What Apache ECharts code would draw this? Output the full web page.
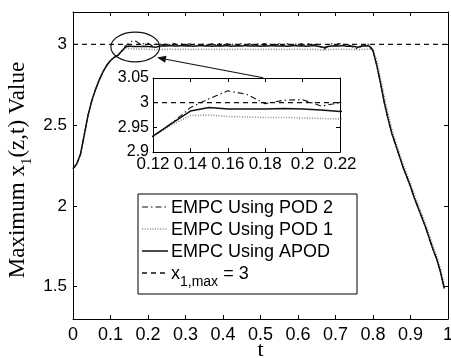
<!DOCTYPE html>
<html>
<head>
<meta charset="utf-8">
<script src="https://cdn.jsdelivr.net/npm/echarts@6/dist/echarts.min.js"></script>
<style>
  html, body { margin: 0; padding: 0; background: #fff; }
  #chart { width: 451px; height: 358px; }
</style>
</head>
<body>
<div id="chart"></div>
<script>
// Sampling step of the simulation output (t = 0, 0.01, ..., 0.99)
const step = 0.01;

// Maximum of x1(z,t) for each controller
const apod = [
  2.23, 2.26, 2.32, 2.44, 2.56, 2.65, 2.72, 2.78, 2.83, 2.87,
  2.90, 2.92, 2.932, 2.958, 2.983, 2.990, 2.987, 2.987, 2.987, 2.988,
  2.987, 2.985, 2.982, 2.988, 2.991, 2.989, 2.992, 2.989, 2.990, 2.992,
  2.989, 2.991, 2.988, 2.990, 2.992, 2.989, 2.991, 2.988, 2.990, 2.991,
  2.989, 2.992, 2.988, 2.990, 2.991, 2.989, 2.992, 2.989, 2.990, 2.991,
  2.988, 2.991, 2.989, 2.992, 2.990, 2.989, 2.991, 2.988, 2.990, 2.992,
  2.989, 2.991, 2.988, 2.990, 2.992, 2.989, 2.985, 2.980, 2.986, 2.990,
  2.991, 2.989, 2.992, 2.988, 2.990, 2.986, 2.982, 2.988, 2.991, 2.990,
  2.96, 2.87, 2.76, 2.64, 2.54, 2.45, 2.38, 2.31, 2.24, 2.18,
  2.12, 2.05, 1.99, 1.93, 1.87, 1.80, 1.73, 1.67, 1.59, 1.49
];
const pod1 = [
  2.23, 2.26, 2.32, 2.44, 2.56, 2.65, 2.72, 2.78, 2.83, 2.87,
  2.90, 2.92, 2.932, 2.955, 2.974, 2.975, 2.972, 2.971, 2.970, 2.970,
  2.969, 2.968, 2.967, 2.968, 2.969, 2.968, 2.970, 2.968, 2.969, 2.968,
  2.970, 2.968, 2.969, 2.967, 2.969, 2.968, 2.970, 2.968, 2.969, 2.968,
  2.969, 2.967, 2.969, 2.968, 2.970, 2.968, 2.969, 2.968, 2.969, 2.967,
  2.969, 2.968, 2.970, 2.968, 2.969, 2.968, 2.969, 2.967, 2.969, 2.968,
  2.970, 2.968, 2.969, 2.968, 2.969, 2.967, 2.966, 2.965, 2.967, 2.968,
  2.969, 2.968, 2.970, 2.968, 2.969, 2.967, 2.966, 2.968, 2.969, 2.970,
  2.97, 2.90, 2.79, 2.68, 2.57, 2.48, 2.40, 2.33, 2.26, 2.20,
  2.14, 2.07, 2.01, 1.95, 1.89, 1.82, 1.75, 1.69, 1.61, 1.51
];
const pod2 = [
  2.23, 2.26, 2.32, 2.44, 2.56, 2.65, 2.72, 2.78, 2.83, 2.87,
  2.90, 2.92, 2.932, 2.958, 2.990, 3.008, 3.024, 3.017, 2.998, 3.005,
  3.006, 2.993, 3.000, 3.004, 2.996, 3.004, 2.995, 3.005, 2.996, 3.003,
  2.995, 3.004, 2.996, 3.005, 2.995, 3.003, 2.996, 3.004, 2.995, 3.005,
  2.996, 3.003, 2.995, 3.004, 2.996, 3.005, 2.995, 3.003, 2.996, 3.004,
  2.995, 3.005, 2.996, 3.003, 2.995, 3.004, 2.996, 3.005, 2.995, 3.003,
  2.996, 3.004, 2.995, 3.005, 2.996, 3.001, 2.985, 2.970, 2.988, 3.004,
  2.995, 3.005, 2.996, 3.003, 2.990, 2.978, 2.972, 2.992, 3.004, 3.000,
  2.96, 2.87, 2.76, 2.64, 2.54, 2.45, 2.38, 2.31, 2.24, 2.18,
  2.12, 2.05, 1.99, 1.93, 1.87, 1.80, 1.73, 1.67, 1.59, 1.49
];
// Constraint x1,max
const x1Max = 3;
const limitSpan = [0, 1];
const insetLimitSpan = [0.12, 0.22];

// Tick positions
const xTicks = [0, 0.1, 0.2, 0.3, 0.4, 0.5, 0.6, 0.7, 0.8, 0.9, 1];
const yTicks = [1.5, 2, 2.5, 3];
const insetXTicks = [0.12, 0.14, 0.16, 0.18, 0.2, 0.22];
const insetYTicks = [2.9, 2.95, 3, 3.05];

const seriesNames = ['EMPC Using POD 2', 'EMPC Using POD 1', 'EMPC Using APOD'];

const SANS = '"Liberation Sans", Arial, Helvetica, sans-serif';
const SERIF = '"Liberation Serif", "Times New Roman", serif';
const INK = '#111';

const toPairs = vals => vals.map((v, i) => [Math.round(i * step * 100) / 100, v]);

function axisDef(grid, min, max, ticks, pos, withLabels, fontSize, margin) {
  return {
    type: 'value', gridIndex: grid, min: min, max: max, position: pos,
    axisLine: { onZero: false, lineStyle: { color: '#000', width: 1 } },
    axisTick: { inside: true, length: 4, customValues: ticks, lineStyle: { color: '#000' } },
    axisLabel: { show: withLabels, customValues: ticks, color: '#000', fontFamily: SANS,
                 fontSize: fontSize, margin: margin },
    splitLine: { show: false }
  };
}

function curveSeries(xi, yi) {
  const base = { type: 'line', xAxisIndex: xi, yAxisIndex: yi, symbol: 'none',
                 silent: true, animation: false, clip: true };
  return [
    Object.assign({}, base, { name: seriesNames[1], data: toPairs(pod1), z: 2,
      lineStyle: { color: '#8c8c8c', width: 1.6, type: [1, 1.6] } }),
    Object.assign({}, base, { name: seriesNames[2], data: toPairs(apod), z: 3,
      lineStyle: { color: INK, width: 1.5, type: 'solid' } }),
    Object.assign({}, base, { name: seriesNames[0], data: toPairs(pod2), z: 4,
      lineStyle: { color: INK, width: 1.1, type: [6, 3, 1.5, 3] } }),
    Object.assign({}, base, { name: 'x1,max', z: 5,
      data: (xi === 0 ? limitSpan : insetLimitSpan).map(t => [t, x1Max]),
      lineStyle: { color: INK, width: 1.3, type: [5, 4] } })
  ];
}

const chart = echarts.init(document.getElementById('chart'), null, { renderer: 'canvas' });

chart.setOption({
  animation: false,
  backgroundColor: '#fff',
  grid: [
    { left: 73, right: 3, top: 12, bottom: 39, outerBoundsMode: 'none', containLabel: false },
    { left: 153, top: 78, width: 187, height: 74, outerBoundsMode: 'none', containLabel: false,
      backgroundColor: '#fff', show: true, borderWidth: 0 }
  ],
  xAxis: [
    Object.assign(axisDef(0, 0, 1, xTicks, 'bottom', true, 18, 7), {
      name: 't', nameLocation: 'middle', nameGap: 20, nameMoveOverlap: false,
      nameTextStyle: { fontFamily: SERIF, fontSize: 22, color: '#000' }
    }),
    axisDef(0, 0, 1, xTicks, 'top', false, 18, 7),
    axisDef(1, 0.12, 0.22, insetXTicks, 'bottom', true, 17, 4),
    axisDef(1, 0.12, 0.22, insetXTicks, 'top', false, 17, 4)
  ],
  yAxis: [
    axisDef(0, 1.3, 3.2, yTicks, 'left', true, 17, 6),
    axisDef(0, 1.3, 3.2, yTicks, 'right', false, 17, 6),
    axisDef(1, 2.9, 3.05, insetYTicks, 'left', true, 16, 4),
    axisDef(1, 2.9, 3.05, insetYTicks, 'right', false, 16, 4)
  ],
  series: curveSeries(0, 0).concat(curveSeries(2, 2))
});

// Annotations: y-axis title, zoom ellipse with arrow, and the legend box
const px = (t, v) => chart.convertToPixel({ seriesIndex: 0 }, [t, v]);

const ellC = px(0.166, 2.983);
const ellR = px(0.166 + 0.065, 2.983 + 0.092);
const arrFrom = px(0.507, 2.793);
const arrTo = px(0.224, 2.918);
const dx = arrTo[0] - arrFrom[0], dy = arrTo[1] - arrFrom[1];
const len = Math.hypot(dx, dy), ux = dx / len, uy = dy / len;
const headLen = 9, headHalf = 3.5;
const baseX = arrTo[0] - ux * headLen, baseY = arrTo[1] - uy * headLen;

const legendX = 138, legendY = 194, legendW = 219, legendH = 100;
const rowY = [207, 229, 251, 273];
const sampleStyles = [
  { stroke: INK, lineWidth: 1.1, lineDash: [6, 3, 1.5, 3] },
  { stroke: '#8c8c8c', lineWidth: 1.6, lineDash: [1, 1.6] },
  { stroke: INK, lineWidth: 1.5 },
  { stroke: INK, lineWidth: 1.3, lineDash: [5, 4] }
];

const legendChildren = [
  { type: 'rect', shape: { x: legendX, y: legendY, width: legendW, height: legendH },
    style: { fill: '#fff', stroke: '#000', lineWidth: 1 } }
];
rowY.forEach((y, i) => {
  legendChildren.push({ type: 'line', shape: { x1: legendX + 4, y1: y, x2: legendX + 30, y2: y },
    style: sampleStyles[i] });
});
seriesNames.forEach((n, i) => {
  legendChildren.push({ type: 'text', x: legendX + 33, y: rowY[i] + 1,
    style: { text: n, font: '18px ' + SANS, fill: '#000', align: 'left', verticalAlign: 'middle' } });
});
legendChildren.push({ type: 'text', x: legendX + 33, y: rowY[3] + 4,
  style: { text: '{n|x}{s|1,max}{n| = 3}', fill: '#000', align: 'left', verticalAlign: 'middle',
    rich: {
      n: { fontFamily: SANS, fontSize: 18, fill: '#000', padding: [0, 0, 6, 0] },
      s: { fontFamily: SANS, fontSize: 14, fill: '#000', padding: [10, 0, 0, 0] }
    } } });

chart.setOption({
  graphic: [
    { type: 'text', x: 21, y: 170, rotation: Math.PI / 2,
      style: { text: '{a|Maximum x}{b|1}{a|(z,t) Value}', align: 'center', verticalAlign: 'middle',
        rich: {
          a: { fontFamily: SERIF, fontSize: 23, fill: '#000', padding: [0, 0, 6, 0] },
          b: { fontFamily: SERIF, fontSize: 15, fill: '#000', padding: [12, 0, 0, 0] }
        } } },
    { type: 'ellipse', shape: { cx: ellC[0], cy: ellC[1], rx: Math.abs(ellR[0] - ellC[0]), ry: Math.abs(ellR[1] - ellC[1]) },
      style: { fill: 'none', stroke: INK, lineWidth: 1.2 }, z: 10 },
    { type: 'line', shape: { x1: arrFrom[0], y1: arrFrom[1], x2: baseX, y2: baseY },
      style: { stroke: INK, lineWidth: 1.2 }, z: 10 },
    { type: 'polygon', shape: { points: [
        [arrTo[0], arrTo[1]],
        [baseX - uy * headHalf, baseY + ux * headHalf],
        [baseX + uy * headHalf, baseY - ux * headHalf]
      ] }, style: { fill: INK }, z: 10 },
    { type: 'group', children: legendChildren, z: 20 }
  ]
});
</script>
</body>
</html>
